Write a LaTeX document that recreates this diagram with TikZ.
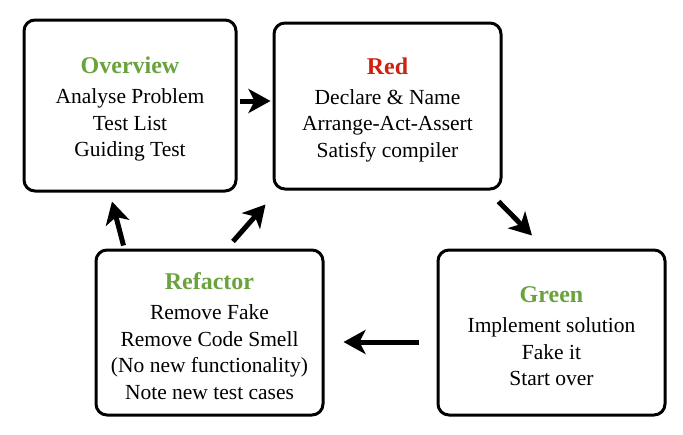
\documentclass[tikz,border=0pt]{standalone}
\usepackage{fontspec}
\setmainfont{Liberation Serif}
\usepackage{tikz}
\usetikzlibrary{shapes,arrows.meta}

\definecolor{tddred}{RGB}{204,34,17}
\definecolor{tddgreen}{RGB}{106,163,62}
\newcommand{\phasetitle}[2]{{\fontsize{24}{26.5}\selectfont\bfseries\color{#1}\rule{0pt}{24pt}#2}\\[3.5pt]}

\begin{document}
\begin{tikzpicture}[x=1pt,y=1pt,>={Stealth[length=22pt,width=24pt,inset=6pt]}]
\tikzstyle{phase}=[rectangle,draw,black,line width=3pt,rounded corners=11pt,fill=white,align=center,inner sep=0pt,font=\fontsize{21.5}{26.5}\selectfont]
\tikzstyle{flow}=[->,line width=5pt]
\useasboundingbox (0,0) rectangle (683,-434);
\node[phase,minimum width=212,minimum height=171](ov) at (130,-105.5) {\phasetitle{tddgreen}{Overview} Analyse Problem\\ Test List\\ Guiding Test};
\node[phase,minimum width=227,minimum height=166](red) at (387.5,-106) {\phasetitle{tddred}{Red} Declare \& Name\\ Arrange-Act-Assert\\ Satisfy compiler};
\node[phase,minimum width=227,minimum height=165](green) at (551.5,-332.5) {\phasetitle{tddgreen}{Green} Implement solution\\ Fake it\\ Start over};
\node[phase,minimum width=227,minimum height=165](ref) at (209.5,-332.5) {\phasetitle{tddgreen}{Refactor} Remove Fake\\ Remove Code Smell\\ (No new functionality)\\ Note new test cases};

\draw[flow] ([shift={(2,4.5)}]ov.east) -- ([shift={(-2,5)}]red.west);
\draw[flow] ([shift={(-4,-11)}]red.south east) -- ([shift={(-19.5,13)}]green.north);
\draw[flow] ([shift={(-18,-9.5)}]green.west) -- ([shift={(19,-9.5)}]ref.east);
\draw[flow] ([shift={(29,3)}]ref.north west) -- ([shift={(-18,-9)}]ov.south);
\draw[flow] ([shift={(23.5,7)}]ref.north) -- ([shift={(-7,-14)}]red.south west);
\end{tikzpicture}
\end{document}
